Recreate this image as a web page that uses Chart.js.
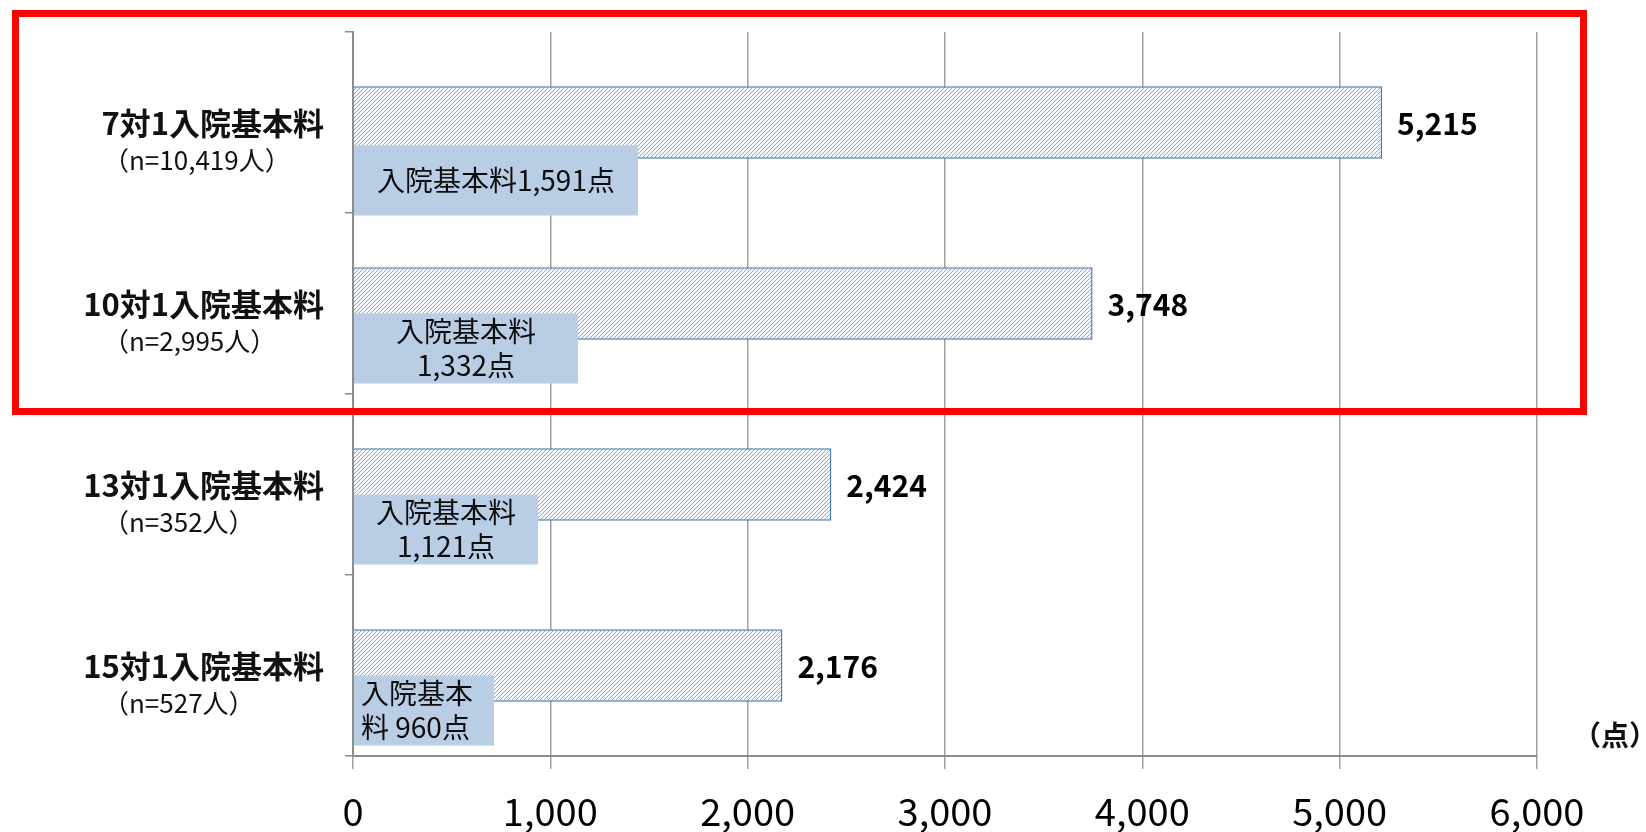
<!DOCTYPE html>
<html><head><meta charset="utf-8">
<script src="https://cdn.jsdelivr.net/npm/chart.js@4"></script>
<style>html,body{margin:0;padding:0;background:#fff;}canvas{display:block;}</style>
</head><body>
<canvas id="c" width="1646" height="832"></canvas>
<script>
// ---- data ----
const categories = ['7対1入院基本料', '10対1入院基本料', '13対1入院基本料', '15対1入院基本料'];
const sampleSizes = ['（n=10,419人）', '（n=2,995人）', '（n=352人）', '（n=527人）'];
const totalPoints = [5215, 3748, 2424, 2176];
const basicFeeLabels = [['入院基本料1,591点'], ['入院基本料', '1,332点'], ['入院基本料', '1,121点'], ['入院基本', '料 960点']];
const xTickValues = [0, 1000, 2000, 3000, 4000, 5000, 6000];
const unitLabel = '（点）';

// ---- styles ----
const FAM = "'Noto Sans CJK JP','Noto Sans',sans-serif";
const BOX_PAD = [[23, 23], [42, 42], [22, 22], [7, 21]];
const BOX_ALIGN = ['center', 'center', 'center', 'left'];
const fmt = v => Number(v).toLocaleString('en-US');

Chart.defaults.font.family = FAM;

const canvas = document.getElementById('c');
const ctx = canvas.getContext('2d');

function hatch() {
  const s = 4, c = document.createElement('canvas');
  c.width = s; c.height = s;
  const g = c.getContext('2d');
  g.fillStyle = '#f3f6fa'; g.fillRect(0, 0, s, s);
  g.strokeStyle = '#93abc8'; g.lineWidth = 1.0;
  g.beginPath();
  g.moveTo(-1, s + 1); g.lineTo(s + 1, -1);
  g.moveTo(-1, 1); g.lineTo(1, -1);
  g.moveTo(s - 1, s + 1); g.lineTo(s + 1, s - 1);
  g.stroke();
  return ctx.createPattern(c, 'repeat');
}

const overlay = {
  id: 'overlay',
  beforeDraw(chart) {
    const c = chart.ctx;
    c.save(); c.fillStyle = '#fff'; c.fillRect(0, 0, chart.width, chart.height); c.restore();
  },
  afterDatasetsDraw(chart) {
    const c = chart.ctx, xs = chart.scales.x;
    const meta = chart.getDatasetMeta(0);
    c.save();
    meta.data.forEach((bar, i) => {
      const lines = basicFeeLabels[i];
      c.font = `28px ${FAM}`;
      const tw = Math.max(...lines.map(l => c.measureText(l).width));
      const [pl, pr] = BOX_PAD[i];
      const left = xs.getPixelForValue(0) + 1;
      const w = tw + pl + pr;
      const h = 70;
      const top = bar.y + (lines.length === 1 ? 23 : 10);
      c.fillStyle = '#b9cde5';
      c.fillRect(left, top, w, h);
      c.fillStyle = '#0d0d0d';
      c.textBaseline = 'middle';
      c.textAlign = BOX_ALIGN[i];
      const tx = BOX_ALIGN[i] === 'left' ? left + pl : left + pl + tw / 2;
      lines.forEach((l, k) => {
        const ty = top + h / 2 + (k - (lines.length - 1) / 2) * 34;
        c.fillText(l, tx, ty);
      });
      c.font = `bold 30px ${FAM}`;
      c.textAlign = 'left';
      c.fillStyle = '#000';
      c.fillText(fmt(totalPoints[i]), bar.x + 15, bar.y + 1);
    });
    c.restore();
  },
  afterDraw(chart) {
    const c = chart.ctx, ys = chart.scales.y, ca = chart.chartArea;
    c.save();
    c.textBaseline = 'middle';
    categories.forEach((lab, i) => {
      const y = ys.getPixelForValue(i);
      c.fillStyle = '#111';
      c.font = `bold 31px ${FAM}`;
      c.textAlign = 'right';
      c.fillText(lab, 324, y + 1);
      c.font = `26px ${FAM}`;
      c.textAlign = 'left';
      c.fillText(sampleSizes[i], 103, y + 38);
    });
    c.font = `bold 28px ${FAM}`;
    c.textAlign = 'center';
    c.fillStyle = '#111';
    c.fillText(unitLabel, 1615, ca.bottom - 21);
    // red frame
    c.strokeStyle = '#ff0000';
    c.lineWidth = 7;
    c.strokeRect(15.5, 13.5, 1568, 398);
    c.restore();
  }
};

new Chart(ctx, {
  type: 'bar',
  data: {
    labels: categories,
    datasets: [{
      data: totalPoints,
      backgroundColor: hatch(),
      borderColor: '#4a7ebb',
      borderWidth: 1.5,
      barPercentage: 0.4,
      categoryPercentage: 1
    }]
  },
  options: {
    indexAxis: 'y',
    responsive: false,
    devicePixelRatio: 1,
    animation: false,
    layout: { padding: { top: 32, right: 109, left: 0, bottom: 0 } },
    plugins: { legend: { display: false }, tooltip: { enabled: false } },
    scales: {
      x: {
        min: xTickValues[0],
        max: xTickValues[xTickValues.length - 1],
        afterBuildTicks: s => { s.ticks = xTickValues.map(v => ({ value: v })); },
        ticks: { callback: v => fmt(v), font: { size: 38 }, color: '#000', padding: 20, maxRotation: 0, autoSkip: false },
        grid: { color: '#a0a0a0', lineWidth: 1.5, tickLength: 13, drawTicks: true },
        border: { color: '#8c8c8c', width: 2 },
        afterFit: s => { s.height = 76; }
      },
      y: {
        ticks: { display: false },
        grid: { drawOnChartArea: false, tickLength: 8, color: '#8c8c8c', lineWidth: 1.5, offset: true },
        border: { color: '#8c8c8c', width: 2 },
        afterFit: s => { s.width = 353; }
      }
    }
  },
  plugins: [overlay]
});
</script>
</body></html>
